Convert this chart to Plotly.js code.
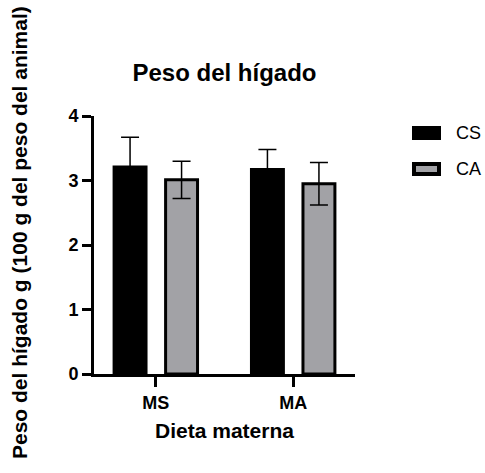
<!DOCTYPE html>
<html>
<head>
<meta charset="utf-8">
<script src="https://cdn.plot.ly/plotly-3.0.1.min.js"></script>
<style>
  html, body { margin: 0; padding: 0; background: #fff; }
  #chart { width: 485px; height: 473px; }
</style>
</head>
<body>
<div id="chart"></div>
<script>
// Dietary groups (maternal diet) on the x axis
const categories = ['MS', 'MA'];

// Series: liver weight per 100 g body weight, mean and SD
const seriesNames = ['CS', 'CA'];
const csValues = [3.21, 3.17];
const csErrors = [0.46, 0.31];
const caValues = [3.01, 2.95];
const caErrors = [0.29, 0.33];

const yTicks = [0, 1, 2, 3, 4];

const FONT = 'Arial, "Liberation Sans", sans-serif';
const W = 485, H = 473;
const M = { l: 94, r: 130, t: 116, b: 99 };
const plotW = W - M.l - M.r;
const plotH = H - M.t - M.b;

// convert page pixels to paper coordinates (legend and side title)
const px = x => (x - M.l) / plotW;
const py = y => (H - M.b - y) / plotH;

const fills = ['#000000', '#a2a2a6'];

const errStyle = { color: '#000', thickness: 1.5, width: 9 };

const traces = [
  {
    type: 'bar', name: seriesNames[0], x: categories, y: csValues,
    marker: { color: fills[0], line: { color: '#000', width: 3 } },
    error_y: Object.assign({ type: 'data', array: csErrors, visible: true }, errStyle),
    showlegend: false
  },
  {
    type: 'bar', name: seriesNames[1], x: categories, y: caValues,
    marker: { color: fills[1], line: { color: '#000', width: 3 } },
    error_y: Object.assign({ type: 'data', array: caErrors, visible: true }, errStyle),
    showlegend: false
  }
];

// legend: wide swatches with labels to the right
const legendRows = [133, 169];
const shapes = legendRows.map((cy, i) => ({
  type: 'rect', xref: 'paper', yref: 'paper',
  x0: px(414), x1: px(439), y0: py(cy - 5), y1: py(cy + 5),
  fillcolor: fills[i], line: { color: '#000', width: 4 }
}));
const annotations = legendRows.map((cy, i) => ({
  xref: 'paper', yref: 'paper', x: px(454), y: py(cy),
  xanchor: 'left', yanchor: 'middle', showarrow: false,
  text: seriesNames[i], font: { family: FONT, size: 18, color: '#000' }
}));

// vertical axis title, placed by hand
annotations.push({
  xref: 'paper', yref: 'paper', x: px(19), y: py(233),
  xanchor: 'center', yanchor: 'middle', showarrow: false, textangle: -90,
  text: '<b>Peso del hígado g (100 g del peso del animal)</b>',
  font: { family: FONT, size: 21, color: '#000' }
});

const layout = {
  width: W, height: H,
  margin: M,
  paper_bgcolor: '#fff', plot_bgcolor: '#fff',
  barmode: 'group', bargap: 0.25, bargroupgap: 0.38,
  showlegend: false,
  title: {
    text: '<b>Peso del hígado</b>',
    font: { family: FONT, size: 24, color: '#000' },
    xref: 'paper', x: 0.5, xanchor: 'center',
    yref: 'container', y: 1 - 73 / H, yanchor: 'middle'
  },
  xaxis: {
    type: 'category', range: [-0.45, 1.45],
    showline: true, linecolor: '#000', linewidth: 3,
    ticks: 'outside', ticklen: 10, tickwidth: 3, tickcolor: '#000',
    tickfont: { family: FONT, size: 18, color: '#000', weight: 'bold' },
    showgrid: false, zeroline: false, fixedrange: true,
    title: { text: '<b>Dieta materna</b>', font: { family: FONT, size: 21, color: '#000' }, standoff: 12 }
  },
  yaxis: {
    range: [0, 4], tickvals: yTicks, ticktext: yTicks.map(String),
    showline: true, linecolor: '#000', linewidth: 3,
    ticks: 'outside', ticklen: 9, tickwidth: 3, tickcolor: '#000',
    tickfont: { family: FONT, size: 18, color: '#000', weight: 'bold' },
    showgrid: false, zeroline: false, fixedrange: true
  },
  shapes: shapes,
  annotations: annotations
};

Plotly.newPlot('chart', traces, layout, { displayModeBar: false, staticPlot: true });
</script>
</body>
</html>
